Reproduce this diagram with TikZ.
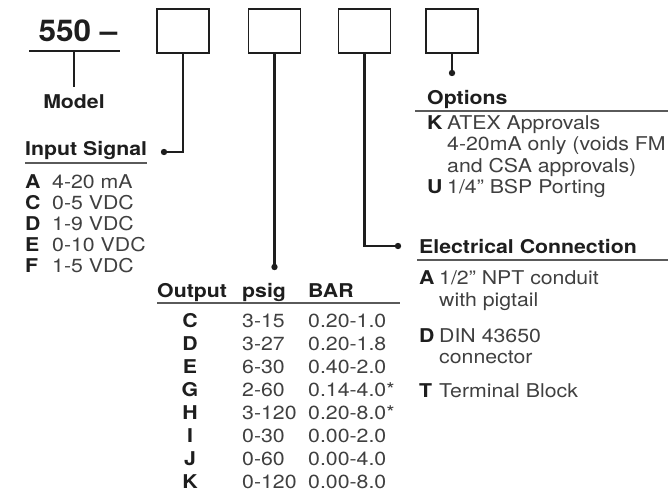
\documentclass[tikz,border=0pt]{standalone}
\usepackage{fontspec}
\setmainfont{TeX Gyre Heros}[FakeStretch=1.12]
\newfontfamily\partfont{TeX Gyre Heros}[FakeStretch=1.05, Ligatures=TeX]
\usetikzlibrary{positioning}
\definecolor{Ink}{HTML}{1E1E1E}
\definecolor{Body}{HTML}{404040}
\definecolor{Rule}{HTML}{5A5A5A}
\newcommand{\txt}{\fontsize{19}{21}\selectfont}

\begin{document}
\begin{tikzpicture}[x=1pt, y=-1pt,
    slot/.style={draw=Ink, line width=1.1pt, minimum width=52pt, minimum height=44pt, inner sep=0pt},
    lead/.style={draw=Ink, line width=2.2pt},
    rulel/.style={draw=Rule, line width=1.3pt},
    head/.style={font=\txt\bfseries, text=Ink, anchor=base west, inner sep=0pt},
    key/.style={font=\txt\bfseries, text=Ink, anchor=base west, inner sep=0pt},
    keyc/.style={key, anchor=base},
    val/.style={font=\txt, text=Body, anchor=base west, inner sep=0pt}]
    \useasboundingbox (0,0) rectangle (668,500);

    % part number and the four option slots
    \node[font=\partfont\fontsize{30}{32}\selectfont\bfseries, text=Ink, anchor=base, inner sep=0pt] (part) at (78,42) {550 \textendash};
    \draw[Ink, line width=2.4pt] (29,51) -- (120,51);
    \coordinate (mtop) at (74,51);
    \coordinate (mbot) at (74,87);
    \draw[lead] (mtop) -- (mbot);
    \node[head, anchor=base] (model) at (74,109) {Model};

    \node[slot] (s1) at (183,31) {};
    \node[slot] (s2) at (274.5,31) {};
    \node[slot] (s3) at (364.5,31) {};
    \node[slot] (s4) at (452,31) {};

    \coordinate (d1) at (164,152);
    \coordinate (d2) at (274.5,267);
    \coordinate (d3) at (398,246);
    \coordinate (d4) at (452,73);
    \draw[lead] (s1.south) |- (d1);
    \draw[lead] (s2.south) -- (d2);
    \draw[lead] (s3.south) |- (d3);
    \draw[lead] (s4.south) -- (d4);
    \fill[Ink] (d1) circle (3.2pt);
    \fill[Ink] (d2) circle (3.2pt);
    \fill[Ink] (d3) circle (3.2pt);
    \fill[Ink] (d4) circle (3.2pt);

    % input signal
    \node[head] (insig) at (25,155) {Input Signal};
    \draw[rulel] (25,163) -- (147,163);
    \node[key] (ia) at (25,188) {A};   \node[val] (iav) at (52,188) {4-20 mA};
    \node[key] (ic) at (25,209) {C};   \node[val] (icv) at (52,209) {0-5 VDC};
    \node[key] (id) at (25,230) {D};   \node[val] (idv) at (52,230) {1-9 VDC};
    \node[key] (ie) at (25,251) {E};   \node[val] (iev) at (52,251) {0-10 VDC};
    \node[key] (if) at (25,272) {F};   \node[val] (ifv) at (52,272) {1-5 VDC};

    % output table
    \node[head] (outh) at (157,297) {Output};
    \node[head] (psih) at (242,297) {psig};
    \node[head] (barh) at (308,297) {BAR};
    \draw[rulel] (157,303) -- (400,303);
    \node[keyc] (oc) at (190,327) {C}; \node[val] (ocp) at (242,327) {3-15};  \node[val] (ocb) at (308,327) {0.20-1.0};
    \node[keyc] (od) at (190,350) {D}; \node[val] (odp) at (242,350) {3-27};  \node[val] (odb) at (308,350) {0.20-1.8};
    \node[keyc] (oe) at (190,373) {E}; \node[val] (oep) at (242,373) {6-30};  \node[val] (oeb) at (308,373) {0.40-2.0};
    \node[keyc] (og) at (190,396) {G}; \node[val] (ogp) at (242,396) {2-60};  \node[val] (ogb) at (308,396) {0.14-4.0*};
    \node[keyc] (oh) at (190,419) {H}; \node[val] (ohp) at (242,419) {3-120}; \node[val] (ohb) at (308,419) {0.20-8.0*};
    \node[keyc] (oi) at (190,442) {I}; \node[val] (oip) at (242,442) {0-30};  \node[val] (oib) at (308,442) {0.00-2.0};
    \node[keyc] (oj) at (190,465) {J}; \node[val] (ojp) at (242,465) {0-60};  \node[val] (ojb) at (308,465) {0.00-4.0};
    \node[keyc] (ok) at (190,488) {K}; \node[val] (okp) at (242,488) {0-120}; \node[val] (okb) at (308,488) {0.00-8.0};

    % options
    \node[head] (opth) at (427,105) {Options};
    \draw[rulel] (415,111) -- (668,111);
    \node[key] (pk) at (427,129) {K}; \node[val] (pkv1) at (447,129) {ATEX Approvals};
    \node[val] (pkv2) at (447,150) {4-20mA only (voids FM};
    \node[val] (pkv3) at (447,172) {and CSA approvals)};
    \node[key] (pu) at (427,193) {U}; \node[val] (puv) at (447,193) {1/4" BSP Porting};

    % electrical connection
    \node[head] (elch) at (419,253) {Electrical Connection};
    \draw[rulel] (417,260) -- (668,260);
    \node[key] (ea) at (419,284) {A}; \node[val] (eav1) at (439,284) {1/2" NPT conduit};
    \node[val] (eav2) at (439,306) {with pigtail};
    \node[key] (ed) at (419,342) {D}; \node[val] (edv1) at (439,342) {DIN 43650};
    \node[val] (edv2) at (439,363) {connector};
    \node[key] (et) at (419,397) {T}; \node[val] (etv) at (439,397) {Terminal Block};
\end{tikzpicture}
\end{document}
